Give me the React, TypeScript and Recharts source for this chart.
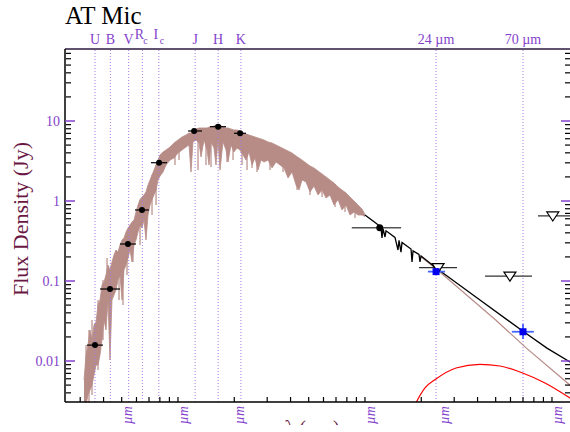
import React from "react";
import {
  ComposedChart,
  XAxis,
  YAxis,
  Area,
  Line,
  Scatter,
  ErrorBar,
  ReferenceLine,
} from "recharts";

const FONT = "'Liberation Serif', 'Times New Roman', serif";
const PURPLE = "#8442cc";
const DOTTED = "#a57be6";
const MAROON = "#6b1743";
const BROWN = "#b78c87";

// wavelength (um), flux range (Jy) of the model photosphere
const spectrum: [number, number, number][] = [
  [0.3145, 0.00244, 0.00579], [0.3224, 0.00282, 0.0119], [0.3303, 0.00376, 0.0158],
  [0.3385, 0.00434, 0.0244], [0.347, 0.00501, 0.0183], [0.3556, 0.00668, 0.0282],
  [0.3645, 0.00891, 0.0307], [0.3736, 0.00891, 0.0501], [0.3828, 0.0119, 0.0579],
  [0.3924, 0.0183, 0.0891], [0.4021, 0.0325, 0.0972], [0.4122, 0.0244, 0.119],
  [0.4224, 0.0579, 0.158], [0.433, 0.0103, 0.137], [0.4437, 0.0579, 0.173],
  [0.4548, 0.0668, 0.211], [0.4661, 0.0772, 0.244], [0.4778, 0.103, 0.23],
  [0.4898, 0.119, 0.282], [0.502, 0.0579, 0.325], [0.5144, 0.137, 0.345],
  [0.5274, 0.158, 0.41], [0.5405, 0.194, 0.46], [0.5539, 0.244, 0.501],
  [0.5678, 0.173, 0.546], [0.5819, 0.282, 0.579], [0.5964, 0.325, 0.729],
  [0.6114, 0.41, 0.891], [0.6266, 0.501, 1.04], [0.6423, 0.46, 1.12],
  [0.6582, 0.579, 1.19], [0.6745, 0.325, 1.3], [0.6914, 0.668, 1.58],
  [0.7088, 0.891, 1.83], [0.7264, 1.04, 2.11], [0.7445, 1.19, 2.44],
  [0.7633, 1.37, 2.82], [0.7822, 1.83, 3.25], [0.8017, 2.05, 3.76],
  [0.8318, 2.3, 4.1], [0.863, 2.82, 4.34], [0.9067, 3.25, 4.73],
  [0.9524, 3.45, 5.31], [1.0, 3.98, 5.79], [1.051, 4.34, 6.31],
  [1.104, 4.73, 6.68], [1.146, 5.01, 7.08], [1.174, 2.3, 7.08],
  [1.203, 5.47, 7.5], [1.249, 5.79, 7.94], [1.296, 5.31, 8.18],
  [1.328, 3.55, 8.18], [1.378, 5.79, 8.18], [1.43, 4.34, 8.18],
  [1.466, 2.82, 8.41], [1.502, 5.47, 8.41], [1.558, 4.6, 8.66],
  [1.597, 2.82, 8.91], [1.637, 5.79, 8.91], [1.678, 2.44, 8.91],
  [1.741, 5.47, 8.41], [1.807, 4.34, 8.18], [1.852, 3.07, 8.18],
  [1.921, 5.01, 7.94], [1.993, 4.1, 7.72], [2.069, 4.6, 7.72],
  [2.146, 4.34, 7.5], [2.228, 3.76, 7.08], [2.311, 3.25, 6.88],
  [2.398, 4.1, 6.68], [2.489, 2.82, 6.49], [2.582, 3.45, 6.31],
  [2.679, 2.44, 6.13], [2.78, 3.25, 5.96], [2.885, 3.07, 5.79],
  [3.03, 3.25, 5.47], [3.183, 2.59, 5.31], [3.344, 3.07, 5.01],
  [3.513, 2.82, 4.73], [3.69, 2.59, 4.47], [3.877, 1.94, 4.22],
  [4.073, 2.3, 3.98], [4.279, 1.58, 3.65], [4.439, 1.37, 3.45],
  [4.606, 1.83, 3.25], [4.838, 1.73, 2.99], [5.082, 1.3, 2.74],
  [5.339, 1.54, 2.59], [5.609, 1.19, 2.37], [5.892, 1.37, 2.18],
  [6.19, 1.09, 2.0], [6.502, 1.19, 1.83], [6.83, 0.891, 1.68],
  [7.176, 1.04, 1.5], [7.538, 0.772, 1.37], [7.918, 0.891, 1.26],
  [8.317, 0.668, 1.12], [8.738, 0.729, 1.0], [9.178, 0.668, 0.891],
  [9.641, 0.668, 0.794], [10.0, 0.64, 0.68],
];

// narrow absorption features: wavelength, continuum, line floor (Jy)
const absLines: [number, number, number][] = [
  [0.3224, 0.0158, 0.00299], [0.3344, 0.0244, 0.00299], [0.347, 0.0325, 0.00376],
  [0.3736, 0.0579, 0.00772], [0.3973, 0.103, 0.0183], [0.4174, 0.194, 0.0501],
  [0.4838, 0.244, 0.0579], [0.5082, 0.282, 0.0501], [0.5338, 0.376, 0.119],
  [0.5747, 0.546, 0.173], [0.6266, 1.04, 0.282], [0.7264, 2.11, 0.668],
  [0.7633, 2.82, 0.891], [0.964, 5.31, 2.82], [1.013, 5.79, 3.25],
  [1.28, 8.18, 2.44], [1.412, 8.18, 2.82], [1.502, 8.41, 2.66],
  [1.829, 8.18, 3.07], [1.97, 7.72, 3.25], [2.2, 7.29, 2.82],
  [2.34, 6.88, 2.44], [2.489, 6.49, 2.59], [2.646, 6.13, 2.3],
  [3.105, 5.31, 2.44], [3.645, 4.47, 2.3], [4.33, 3.55, 1.37],
  [5.082, 2.74, 1.19], [5.892, 2.18, 1.12], [6.915, 1.63, 0.841],
  [7.821, 1.3, 0.729], [8.846, 0.972, 0.613],
];

// photosphere + disk (black)
const totalWaves = [10.0, 11.32, 12.18, 12.33, 12.49, 12.8, 12.96, 14.47, 15.02, 15.21, 15.58, 15.78, 17.63, 17.85, 18.07, 19.45, 19.69, 19.94, 24, 40, 70, 94, 126];
const totalFlux = [0.668, 0.538, 0.472, 0.345, 0.452, 0.355, 0.424, 0.351, 0.244, 0.323, 0.23, 0.303, 0.251, 0.173, 0.238, 0.215, 0.173, 0.206, 0.145, 0.061, 0.0235, 0.0145, 0.0096];

// photosphere alone beyond 20 um
const photoWaves = [20, 24, 50, 73, 126];
const photoFlux = [0.2, 0.142, 0.0325, 0.0145, 0.0049];

// dust excess (red)
const excessWaves = [17, 18.75, 20.94, 23.98, 30.68, 41.2, 52.7, 69.1, 91.8, 126];
const excessFlux = [0.0018, 0.003, 0.0046, 0.00596, 0.00818, 0.0091, 0.00866, 0.00714, 0.00531, 0.0034];

// optical / near-IR photometry
const photWaves = [0.36, 0.433, 0.54, 0.642, 0.792, 1.22, 1.64, 2.15];
const photFlux = [0.0158, 0.0794, 0.29, 0.772, 3.01, 7.5, 8.49, 7.02];
const photXerr = [[0.034, 0.037], [0.05, 0.057], [0.05, 0.056], [0.053, 0.058], [0.075, 0.082], [0.088, 0.124], [0.157, 0.167], [0.157, 0.161]];

// IRAS detection and upper limits
const irasWaves = [12];
const irasFlux = [0.464];
const irasXerr = [[3.5, 3.6]];
const limitWaves = [24.6, 59.6, 101];
const limitFlux = [0.147, 0.115, 0.65];
const limitXerr = [[5.15, 6.46], [15.75, 18.6], [16.8, 40]];

// MIPS 24 / 70 um
const mipsWaves = [24, 70];
const mipsFlux = [0.131, 0.0232];
const mipsXerr = [[2.3, 2.8], [9, 10]];
const mipsYerr = [[0.006, 0.006], [0.0044, 0.0058]];

// band markers along the top
const bandWaves = [0.36, 0.435, 0.545, 0.645, 0.79, 1.235, 1.64, 2.17, 24, 70];
const bandLabels = ["U", "B", "V", "R", "I", "J", "H", "K", "24 \u00b5m", "70 \u00b5m"];
const bandSubs = ["", "", "", "c", "c", "", "", "", "", ""];

const yMajor = [0.01, 0.1, 1, 10];
const yMinor = [0.004, 0.005, 0.006, 0.007, 0.008, 0.009, 0.02, 0.03, 0.04, 0.05, 0.06, 0.07, 0.08, 0.09, 0.2, 0.3, 0.4, 0.5, 0.6, 0.7, 0.8, 0.9, 2, 3, 4, 5, 6, 7, 8, 9, 20, 30, 40, 50, 60, 70];
const xMinor = [0.3, 0.4, 0.5, 0.6, 0.7, 0.8, 0.9, 1, 2, 3, 4, 5, 6, 7, 8, 9, 10, 20, 30, 40, 50, 60, 70, 80, 90, 100];
const xLabelTicks = [0.5, 1, 2, 10, 25, 100];

const X_DOMAIN = [0.2488, 126.4];
const Y_DOMAIN = [0.003073, 79.4];

const specData = spectrum.map(([w, lo, hi]) => ({ w, band: [lo, hi] }));
const lineData = absLines.map(([w, top, floor]) => ({ w, f: top, depth: [top - floor, 0] }));
const totalData = totalWaves.map((w, i) => ({ w, f: totalFlux[i] }));
const photoData = photoWaves.map((w, i) => ({ w, f: photoFlux[i] }));
const excessData = excessWaves.map((w, i) => ({ w, f: excessFlux[i] }));
const photData = photWaves.map((w, i) => ({ w, f: photFlux[i], xerr: photXerr[i] }));
const irasData = irasWaves.map((w, i) => ({ w, f: irasFlux[i], xerr: irasXerr[i] }));
const limitData = limitWaves.map((w, i) => ({ w, f: limitFlux[i], xerr: limitXerr[i] }));
const mipsData = mipsWaves.map((w, i) => ({ w, f: mipsFlux[i], xerr: mipsXerr[i], yerr: mipsYerr[i] }));

function YTickLabel(props: any) {
  const { x, y, payload } = props;
  return (
    <text x={x} y={y} dy={5} textAnchor="end" fill={PURPLE} fontSize={14} fontFamily={FONT}>
      {String(payload.value)}
    </text>
  );
}

function BandTick(props: any) {
  const { x, y, payload } = props;
  let i = -1;
  bandWaves.forEach((b, k) => {
    if (Math.abs(Math.log(b / payload.value)) < 1e-3) i = k;
  });
  if (i < 0) return null;
  if (bandSubs[i]) {
    return (
      <g fill={PURPLE} fontFamily={FONT}>
        <text x={x - 3} y={y - 5} textAnchor="middle" fontSize={14}>{bandLabels[i]}</text>
        <text x={x + 1} y={y} fontSize={10}>{bandSubs[i]}</text>
      </g>
    );
  }
  return (
    <text x={x} y={y} textAnchor="middle" fill={PURPLE} fontSize={14} fontFamily={FONT}>
      {bandLabels[i]}
    </text>
  );
}

function WaveTick(props: any) {
  const { x, y, payload } = props;
  const tx = x + 10;
  return (
    <text
      x={tx}
      y={y}
      transform={`rotate(-90, ${tx}, ${y})`}
      textAnchor="end"
      fill={PURPLE}
      fontSize={14}
      fontStyle="italic"
      fontFamily={FONT}
    >
      {`${payload.value} \u00b5m`}
    </text>
  );
}

const noTick = () => <g />;
const dot = (p: any) => <circle cx={p.cx} cy={p.cy} r={3} fill="#000" />;
const bigDot = (p: any) => <circle cx={p.cx} cy={p.cy} r={3.5} fill="#000" />;
const noDot = () => <g />;
const triangle = (p: any) => (
  <path
    d={`M${p.cx - 6},${p.cy - 4} L${p.cx + 6},${p.cy - 4} L${p.cx},${p.cy + 5} Z`}
    fill="#fff"
    stroke="#000"
    strokeWidth={1.2}
  />
);
const square = (p: any) => (
  <rect x={p.cx - 3.5} y={p.cy - 3.5} width={7} height={7} fill="#0000ee" />
);

export default function App() {
  const tickAxis = {
    type: "number" as const,
    scale: "log" as const,
    allowDataOverflow: true,
    interval: 0 as const,
  };
  // invisible series so that the tick-only axes get rendered
  const anchor = (xId: string, yId: string) => (
    <Line
      key={xId + yId}
      xAxisId={xId}
      yAxisId={yId}
      data={photData}
      dataKey="f"
      stroke="none"
      dot={false}
      activeDot={false}
      legendType="none"
      isAnimationActive={false}
    />
  );
  return (
    <div
      style={{
        position: "fixed",
        left: 0,
        top: 0,
        width: 570,
        height: 425,
        overflow: "hidden",
        background: "#fff",
      }}
    >
      <ComposedChart width={580} height={470} margin={{ top: 0, right: 9, bottom: 28, left: 0 }}>
        <XAxis
          {...tickAxis}
          xAxisId="x"
          dataKey="w"
          domain={X_DOMAIN}
          ticks={xLabelTicks}
          tickLine={false}
          tickSize={0}
          tickMargin={4}
          height={40}
          tick={<WaveTick />}
          axisLine={{ stroke: "#000", strokeWidth: 1.5 }}
        />
        <XAxis
          {...tickAxis}
          xAxisId="xTop"
          dataKey="w"
          orientation="top"
          domain={X_DOMAIN}
          ticks={bandWaves}
          tickLine={false}
          tickSize={0}
          tickMargin={5}
          height={49}
          tick={<BandTick />}
          axisLine={{ stroke: "#2d1a3d", strokeWidth: 1.5 }}
        />
        <XAxis
          {...tickAxis}
          xAxisId="xMinor"
          dataKey="w"
          orientation="bottom"
          mirror
          height={1}
          domain={X_DOMAIN}
          ticks={xMinor}
          tick={noTick}
          tickSize={5}
          tickLine={{ stroke: "#000", strokeWidth: 1.2 }}
          axisLine={false}
        />
        <YAxis
          {...tickAxis}
          yAxisId="y"
          width={65}
          domain={Y_DOMAIN}
          ticks={yMajor}
          tickLine={false}
          tickSize={0}
          tickMargin={5}
          tick={<YTickLabel />}
          axisLine={{ stroke: "#000", strokeWidth: 1.5 }}
        />
        <YAxis {...tickAxis} yAxisId="yMajL" mirror width={1} domain={Y_DOMAIN} ticks={yMajor} tick={noTick} tickSize={10} tickLine={{ stroke: PURPLE, strokeWidth: 1.5 }} axisLine={false} />
        <YAxis {...tickAxis} yAxisId="yMinL" mirror width={1} domain={Y_DOMAIN} ticks={yMinor} tick={noTick} tickSize={5} tickLine={{ stroke: "#000", strokeWidth: 1.2 }} axisLine={false} />
        <YAxis {...tickAxis} yAxisId="yMajR" orientation="right" mirror width={1} domain={Y_DOMAIN} ticks={yMajor} tick={noTick} tickSize={10} tickLine={{ stroke: PURPLE, strokeWidth: 1.5 }} axisLine={false} />
        <YAxis {...tickAxis} yAxisId="yMinR" orientation="right" mirror width={1} domain={Y_DOMAIN} ticks={yMinor} tick={noTick} tickSize={5} tickLine={{ stroke: "#000", strokeWidth: 1.2 }} axisLine={false} />

        {anchor("xTop", "yMajL")}
        {anchor("xMinor", "yMinL")}
        {anchor("xTop", "yMajR")}
        {anchor("xMinor", "yMinR")}

        <Area
          xAxisId="x"
          yAxisId="y"
          data={specData}
          dataKey="band"
          type="linear"
          stroke={BROWN}
          strokeWidth={0.8}
          fill={BROWN}
          fillOpacity={1}
          dot={false}
          activeDot={false}
          isAnimationActive={false}
        />
        <Scatter xAxisId="x" yAxisId="y" data={lineData} dataKey="f" shape={noDot} isAnimationActive={false}>
          <ErrorBar dataKey="depth" direction="y" width={0} stroke={BROWN} strokeWidth={1.2} />
        </Scatter>

        {bandWaves.map((w) => (
          <ReferenceLine
            key={w}
            xAxisId="x"
            yAxisId="y"
            x={w}
            stroke={DOTTED}
            strokeWidth={1}
            strokeDasharray="1 2"
          />
        ))}

        <Line xAxisId="x" yAxisId="y" data={excessData} dataKey="f" type="monotone" stroke="#ff0000" strokeWidth={1.2} dot={false} activeDot={false} isAnimationActive={false} />
        <Line xAxisId="x" yAxisId="y" data={photoData} dataKey="f" type="linear" stroke={BROWN} strokeWidth={1.2} dot={false} activeDot={false} isAnimationActive={false} />
        <Line xAxisId="x" yAxisId="y" data={totalData} dataKey="f" type="linear" stroke="#000" strokeWidth={1.3} dot={false} activeDot={false} isAnimationActive={false} />

        <Scatter xAxisId="x" yAxisId="y" data={photData} dataKey="f" shape={dot} isAnimationActive={false}>
          <ErrorBar dataKey="xerr" direction="x" width={0} stroke="#000" strokeWidth={1.2} />
        </Scatter>
        <Scatter xAxisId="x" yAxisId="y" data={irasData} dataKey="f" shape={bigDot} isAnimationActive={false}>
          <ErrorBar dataKey="xerr" direction="x" width={0} stroke="#555" strokeWidth={1.5} />
        </Scatter>
        <Scatter xAxisId="x" yAxisId="y" data={limitData} dataKey="f" shape={triangle} isAnimationActive={false}>
          <ErrorBar dataKey="xerr" direction="x" width={0} stroke="#333" strokeWidth={1.3} />
        </Scatter>
        <Scatter xAxisId="x" yAxisId="y" data={mipsData} dataKey="f" shape={square} isAnimationActive={false}>
          <ErrorBar dataKey="xerr" direction="x" width={0} stroke="#4466ff" strokeWidth={1.8} />
          <ErrorBar dataKey="yerr" direction="y" width={0} stroke="#2244ff" strokeWidth={1.5} />
        </Scatter>
      </ComposedChart>

      <svg
        width={570}
        height={425}
        style={{ position: "absolute", left: 0, top: 0, pointerEvents: "none" }}
      >
        <text x={65} y={24} fontSize={25} fontFamily={FONT} fill="#000">AT Mic</text>
        <text
          x={28}
          y={219}
          transform="rotate(-90, 28, 219)"
          textAnchor="middle"
          fontSize={22}
          fontFamily={FONT}
          fill={MAROON}
        >
          Flux Density (Jy)
        </text>
        <text x={312} y={435} textAnchor="middle" fontSize={20} fontFamily={FONT} fill={MAROON}>
          {"\u03bb (\u00b5m)"}
        </text>
      </svg>
    </div>
  );
}
